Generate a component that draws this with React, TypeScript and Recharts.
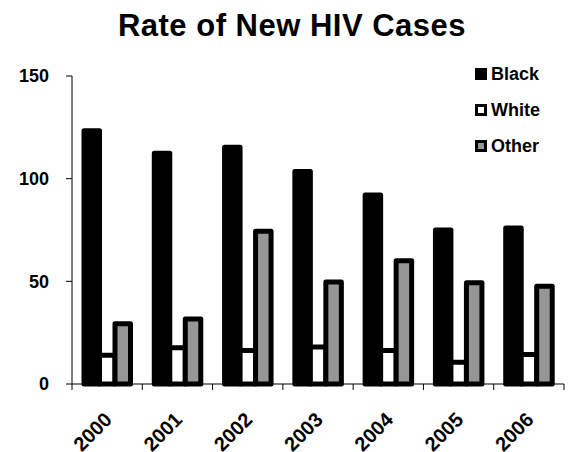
import React from "react";
import { BarChart, Bar, XAxis, YAxis } from "recharts";

const years = ["2000", "2001", "2002", "2003", "2004", "2005", "2006"];
const blackRate = [123.3, 112.4, 115.3, 103.5, 92, 75, 76];
const whiteRate = [14, 17.6, 16.3, 18, 16.3, 10.6, 14.4];
const otherRate = [29.3, 31.7, 74.4, 49.7, 60, 49.3, 47.6];
const yTicks = [0, 50, 100, 150];

const seriesNames = ["Black", "White", "Other"];
const seriesFills = ["#000000", "#ffffff", "#969696"];
const seriesKeys = ["black", "white", "other"];

const data = years.map((y, i) => ({
  year: y,
  black: blackRate[i],
  white: whiteRate[i],
  other: otherRate[i],
}));

const FONT = '"Liberation Sans", Arial, sans-serif';

const XTick = (props: any) => {
  const { x, y, payload, index, visibleTicksCount } = props;
  const half = payload && typeof payload.offset === "number" ? payload.offset : 0;
  const left = x - half;
  const right = x + half;
  return (
    <g>
      <path d={`M${left},${y}L${left},${y + 6}`} stroke="#000" strokeWidth={1} fill="none" />
      {index === visibleTicksCount - 1 && (
        <path d={`M${right},${y}L${right},${y + 6}`} stroke="#000" strokeWidth={1} fill="none" />
      )}
      <text
        transform={`translate(${x + 6},${y + 37}) rotate(-45)`}
        textAnchor="end"
        fontFamily={FONT}
        fontWeight="bold"
        fontSize={20}
        fill="#000"
      >
        {payload.value}
      </text>
    </g>
  );
};

export default function App() {
  return (
    <div style={{ position: "absolute", left: 0, top: 0, width: 578, height: 452, background: "#fff" }}>
      <div
        style={{
          position: "absolute",
          left: 0,
          top: 10.4,
          width: 584,
          textAlign: "center",
          fontFamily: FONT,
          fontWeight: "bold",
          fontSize: 31,
          lineHeight: "31px",
          letterSpacing: 0.5,
          color: "#000",
          whiteSpace: "nowrap",
        }}
      >
        Rate of New HIV Cases
      </div>
      <BarChart
        width={578}
        height={452}
        data={data}
        margin={{ top: 76, right: 14, left: 0, bottom: 0 }}
        barGap={0}
      >
        <YAxis
          width={72}
          domain={[0, 150]}
          ticks={yTicks}
          interval={0}
          axisLine={{ stroke: "#000", strokeWidth: 1 }}
          tickLine={{ stroke: "#000", strokeWidth: 1 }}
          tickSize={6}
          tickMargin={17}
          tick={{ fontFamily: FONT, fontWeight: "bold", fontSize: 18, fill: "#000" }}
        />
        <XAxis
          dataKey="year"
          height={68}
          interval={0}
          axisLine={{ stroke: "#000", strokeWidth: 1 }}
          tickLine={false}
          tickSize={0}
          tickMargin={0}
          tick={<XTick />}
        />
        {seriesKeys.map((k, i) => (
          <Bar
            key={k}
            dataKey={k}
            name={seriesNames[i]}
            fill={seriesFills[i]}
            stroke="#000"
            strokeWidth={5}
            strokeLinejoin="round"
            barSize={15.5}
            isAnimationActive={false}
          />
        ))}
      </BarChart>
      <div style={{ position: "absolute", left: 475, top: 56.5, fontFamily: FONT }}>
        {seriesNames.map((n, i) => (
          <div key={n} style={{ display: "flex", alignItems: "center", height: 35.75 }}>
            <div
              style={{
                width: 12,
                height: 12,
                boxSizing: "border-box",
                border: "3px solid #000",
                background: seriesFills[i],
                marginRight: 4,
              }}
            />
            <span style={{ fontWeight: "bold", fontSize: 18, lineHeight: "36px", color: "#000" }}>{n}</span>
          </div>
        ))}
      </div>
    </div>
  );
}
